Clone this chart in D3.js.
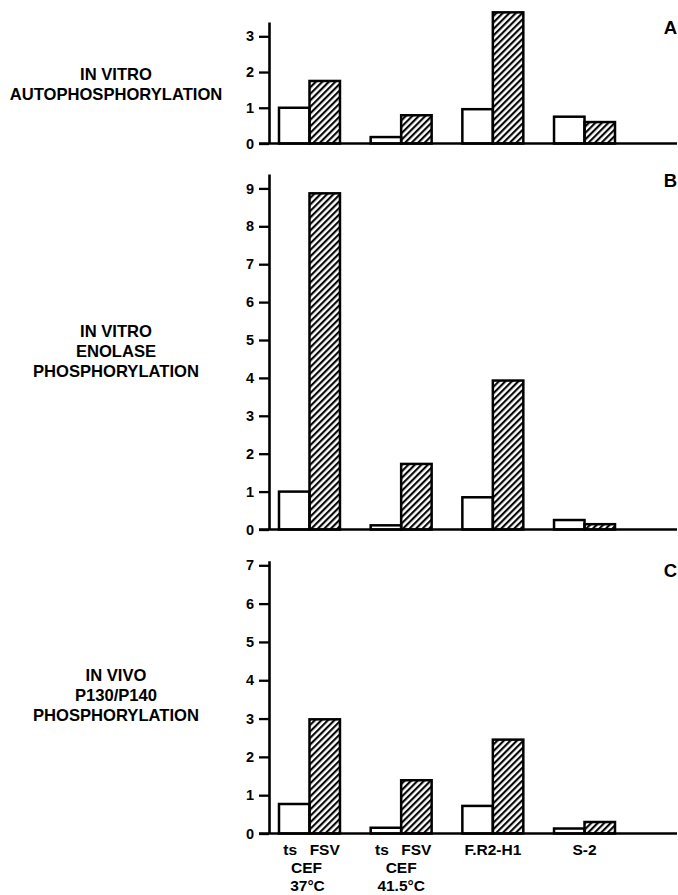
<!DOCTYPE html>
<html>
<head>
<meta charset="utf-8">
<script src="https://cdn.jsdelivr.net/npm/d3@7"></script>
<style>
  body { margin: 0; background: #fff; }
  svg { display: block; }
</style>
</head>
<body>
<div id="chart"></div>
<script>

// Groups along the x axis (same for all three panels)
const groups = [ 'CEF 37°C', 'CEF 41.5°C', 'F.R2-H1', 'S-2' ];
const series = [ 'open', 'hatched' ];

// Panel A: in vitro autophosphorylation
const a_open    = [ 1.0, 0.18, 0.96, 0.75 ];
const a_hatched = [ 1.75, 0.79, 3.67, 0.60 ];
const a_ticks   = [ 0, 1, 2, 3 ];

// Panel B: in vitro enolase phosphorylation
const b_open    = [ 1.0, 0.11, 0.85, 0.25 ];
const b_hatched = [ 8.87, 1.73, 3.93, 0.14 ];
const b_ticks   = [ 0, 1, 2, 3, 4, 5, 6, 7, 8, 9 ];

// Panel C: in vivo P130/P140 phosphorylation
const c_open    = [ 0.77, 0.15, 0.72, 0.13 ];
const c_hatched = [ 2.98, 1.39, 2.45, 0.30 ];
const c_ticks   = [ 0, 1, 2, 3, 4, 5, 6, 7 ];

// x axis labels
const row1_labels = [ [ 'ts', 'FSV' ], [ 'ts', 'FSV' ], [ 'F.R2-H1' ], [ 'S-2' ] ];
const row2_labels = [ 'CEF', 'CEF', '', '' ];
const row3_labels = [ '37°C', '41.5°C', '', '' ];

const fontFamily = '"Liberation Sans", Arial, Helvetica, sans-serif';

const figure_width = 678;
const figure_height = 895;
const axis_x = 269;
const axis_right = 677;

const svg = d3.select( 'div#chart' )
  .append( 'svg' )
    .attr( 'width', figure_width )
    .attr( 'height', figure_height );

// Hatch pattern: diagonal lines ///
const hatch_step = 4.6;
const defs = svg.append( 'defs' );
defs.append( 'pattern' )
    .attr( 'id', 'hatch' )
    .attr( 'patternUnits', 'userSpaceOnUse' )
    .attr( 'width', hatch_step )
    .attr( 'height', hatch_step )
    .attr( 'patternTransform', 'rotate(45)' )
  .append( 'line' )
    .attr( 'x1', 1.1 ).attr( 'y1', 0 )
    .attr( 'x2', 1.1 ).attr( 'y2', hatch_step )
    .attr( 'stroke', '#000' )
    .attr( 'stroke-width', 2.1 );

// Shared x scales
const x = d3.scaleBand()
  .domain( groups )
  .range( [ 279, 615 ] )
  .paddingInner( 0.335 )
  .paddingOuter( 0 );

const xSub = d3.scaleBand()
  .domain( series )
  .range( [ 0, x.bandwidth() ] )
  .padding( 0 );

const panels = [
  { letter: 'A', open: a_open, hatched: a_hatched, ticks: a_ticks, max: 3.4,  y0: 143.5, yTop: 22,
    label: [ 'IN VITRO', 'AUTOPHOSPHORYLATION' ], labelY: 80, letterY: 34 },
  { letter: 'B', open: b_open, hatched: b_hatched, ticks: b_ticks, max: 9.38, y0: 529.5, yTop: 174,
    label: [ 'IN VITRO', 'ENOLASE', 'PHOSPHORYLATION' ], labelY: 337, letterY: 187 },
  { letter: 'C', open: c_open, hatched: c_hatched, ticks: c_ticks, max: 7.12, y0: 833.5, yTop: 560.7,
    label: [ 'IN VIVO', 'P130/P140', 'PHOSPHORYLATION' ], labelY: 681, letterY: 577 }
];

panels.forEach( function( p ) {

  const y = d3.scaleLinear()
    .domain( [ 0, p.max ] )
    .range( [ p.y0, p.yTop ] );

  const g = svg.append( 'g' );

  // Bars
  const rows = groups.map( function( grp, i ) {
    return { group: grp, values: [ { key: 'open', value: p.open[ i ] }, { key: 'hatched', value: p.hatched[ i ] } ] };
  });

  g.append( 'g' )
    .selectAll( 'g' )
    .data( rows )
    .enter()
    .append( 'g' )
      .attr( 'transform', function( d ) { return 'translate(' + x( d.group ) + ',0)'; } )
    .selectAll( 'rect' )
    .data( function( d ) { return d.values; } )
    .enter()
    .append( 'rect' )
      .attr( 'x', function( d ) { return xSub( d.key ); } )
      .attr( 'y', function( d ) { return y( d.value ); } )
      .attr( 'width', xSub.bandwidth() )
      .attr( 'height', function( d ) { return y( 0 ) - y( d.value ); } )
      .attr( 'fill', function( d ) { return d.key === 'hatched' ? 'url(#hatch)' : '#fff'; } )
      .attr( 'stroke', '#000' )
      .attr( 'stroke-width', 2.5 );

  // Y axis
  const yAxis = g.append( 'g' )
    .attr( 'transform', 'translate(' + axis_x + ',0)' )
    .call( d3.axisLeft( y ).tickValues( p.ticks ).tickFormat( d3.format( 'd' ) )
      .tickSize( 10 ).tickSizeOuter( 0 ).tickPadding( 5 ) );
  yAxis.select( '.domain' ).attr( 'stroke-width', 2.6 );
  yAxis.selectAll( '.tick line' ).attr( 'stroke-width', 2.3 );
  yAxis.selectAll( '.tick text' )
    .attr( 'style', 'font-size:14.5px; font-weight:bold; font-family:' + fontFamily )
    .attr( 'fill', '#000' );

  // Baseline
  g.append( 'line' )
    .attr( 'x1', axis_x - 10 ).attr( 'x2', axis_right )
    .attr( 'y1', y( 0 ) ).attr( 'y2', y( 0 ) )
    .attr( 'stroke', '#000' )
    .attr( 'stroke-width', 2.6 );

  // Panel letter
  g.append( 'text' )
    .attr( 'x', axis_right )
    .attr( 'y', p.letterY )
    .attr( 'text-anchor', 'end' )
    .attr( 'style', 'font-size:18.5px; font-weight:bold; font-family:' + fontFamily )
    .text( p.letter );

  // Left label
  g.append( 'text' )
    .attr( 'text-anchor', 'middle' )
    .attr( 'style', 'font-size:16.6px; font-weight:bold; font-family:' + fontFamily )
    .selectAll( 'tspan' )
    .data( p.label )
    .enter()
    .append( 'tspan' )
      .attr( 'x', 116 )
      .attr( 'y', function( d, i ) { return p.labelY + i * 20; } )
      .text( function( d ) { return d; } );
});

// X axis labels under panel C
const xlab = svg.append( 'g' )
  .attr( 'style', 'font-size:15.5px; font-weight:bold; font-family:' + fontFamily )
  .attr( 'text-anchor', 'middle' );

groups.forEach( function( grp, i ) {
  const labs = row1_labels[ i ];
  if ( labs.length === 2 ) {
    xlab.append( 'text' )
      .attr( 'x', x( grp ) + xSub( 'open' ) + xSub.bandwidth() / 2 - 4 )
      .attr( 'y', 855 )
      .text( labs[ 0 ] );
    xlab.append( 'text' )
      .attr( 'x', x( grp ) + xSub( 'hatched' ) + xSub.bandwidth() / 2 )
      .attr( 'y', 855 )
      .text( labs[ 1 ] );
  } else {
    xlab.append( 'text' )
      .attr( 'x', x( grp ) + x.bandwidth() / 2 )
      .attr( 'y', 855 )
      .text( labs[ 0 ] );
  }
  xlab.append( 'text' )
    .attr( 'x', x( grp ) + x.bandwidth() / 2 - ( i === 0 ? 3 : 0 ) )
    .attr( 'y', 873 )
    .text( row2_labels[ i ] );
  xlab.append( 'text' )
    .attr( 'x', x( grp ) + x.bandwidth() / 2 - ( i === 0 ? 2 : 0 ) )
    .attr( 'y', 891 )
    .text( row3_labels[ i ] );
});

</script>
</body>
</html>
